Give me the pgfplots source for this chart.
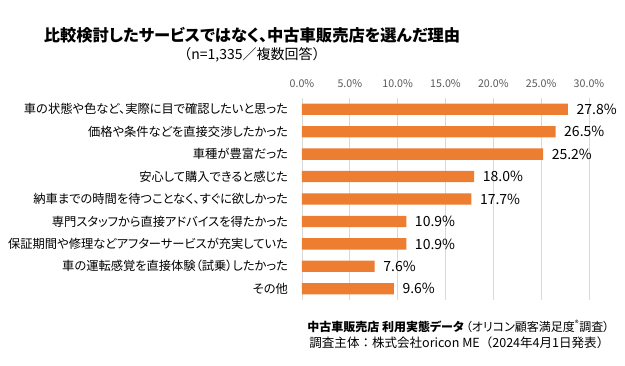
\documentclass[border=0pt]{standalone}
\usepackage{pgfplots}
\pgfplotsset{compat=1.18}
\usepackage{fontspec}
\setmainfont{Noto Sans CJK JP}[RawFeature=+palt]
\newfontfamily\nopalt{Noto Sans CJK JP}
\definecolor{barorange}{HTML}{ED7D31}
\definecolor{gridgray}{HTML}{D9D9D9}
\definecolor{ticktext}{HTML}{595959}
\begin{document}
\begin{tikzpicture}
\path[use as bounding box] (0,0) rectangle (468.75pt,274.5pt);
\node[font=\fontsize{12.2}{15}\selectfont\bfseries] at (189pt,248.25pt) {比較検討したサービスではなく、中古車販売店を選んだ理由};
\node[font=\fontsize{10.5}{12}\selectfont\nopalt] at (189pt,233.5pt) {（n=1,335／複数回答）};
\begin{axis}[
  at={(226.5pt,49.5pt)}, anchor=south west,
  scale only axis, width=215.25pt, height=151.5pt,
  xbar, bar width=8.5pt,
  xmin=0, xmax=30, ymin=-0.5, ymax=8.5, y dir=reverse,
  xtick={0,5,...,30},
  xticklabel pos=upper,
  xticklabel={\pgfmathprintnumber[fixed,fixed zerofill,precision=1]{\tick}\%},
  /pgf/number format/assume math mode=true,
  xticklabel style={font=\fontsize{8}{9}\selectfont, text=ticktext, yshift=4pt},
  ytick={0,...,8},
  yticklabels={車の状態や色など、実際に目で確認したいと思った,価格や条件などを直接交渉したかった,車種が豊富だった,安心して購入できると感じた,納車までの時間を待つことなく、すぐに欲しかった,専門スタッフから直接アドバイスを得たかった,保証期間や修理などアフターサービスが充実していた,車の運転感覚を直接体験（試乗）したかった,その他},
  yticklabel style={font=\fontsize{9.2}{11}\selectfont, xshift=-7pt},
  major tick length=0pt,
  xmajorgrids, major grid style={gridgray, line width=0.6pt},
  axis line style={draw=none},
  clip=false,
  nodes near coords={\pgfmathprintnumber[fixed,fixed zerofill,precision=1]{\pgfplotspointmeta}\%},
  nodes near coords style={font=\fontsize{10.5}{12}\selectfont, anchor=west, xshift=3pt},
  point meta=x,
]
\draw[gridgray, line width=0.6pt] (axis cs:0,-0.5) -- (axis cs:0,8.5);
\addplot[fill=barorange, draw=none] coordinates {
(27.8,0) (26.5,1) (25.2,2) (18.0,3) (17.7,4) (10.9,5) (10.9,6) (7.6,7) (9.6,8)};
\end{axis}
\node[anchor=east, font=\fontsize{9}{11}\selectfont] at (460.5pt,30pt) {\textbf{中古車販売店 利用実態データ}\,（オリコン顧客満足度\textsuperscript{®}調査）};
\node[anchor=east, font=\fontsize{9.4}{11}\selectfont\nopalt] at (460.5pt,17.25pt) {調査主体：株式会社oricon ME（2024年4月1日発表）};
\end{tikzpicture}
\end{document}
